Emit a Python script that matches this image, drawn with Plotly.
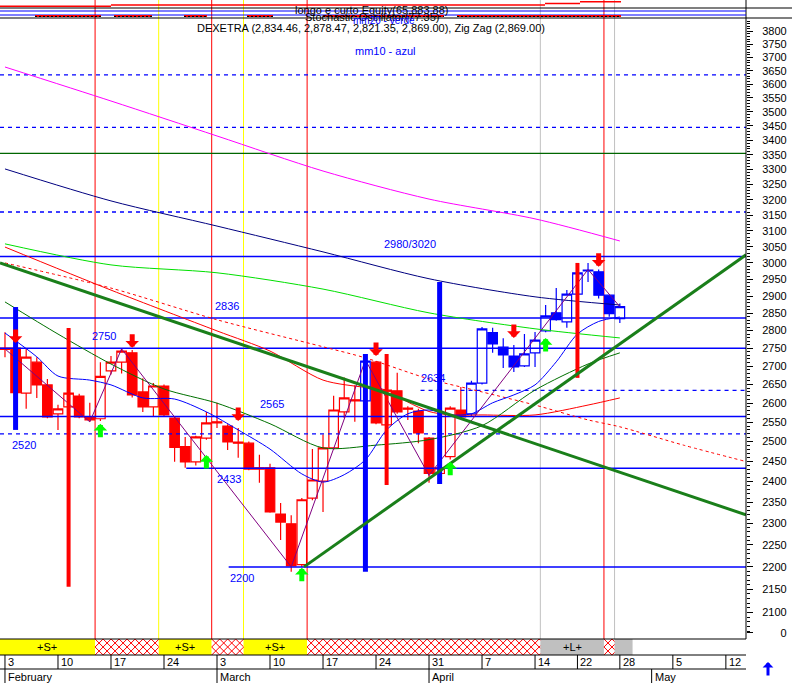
import math
import plotly.graph_objects as go

# ---------------- DATA ----------------
days = list(range(59))
opens = [2750, 2750, 2627, 2711, 2649, 2572, 2590, 2619, 2564, 2559,
         2687, 2711, 2737, 2630, 2590, 2646, 2561, 2487, 2449, 2509,
         2551, 2540, 2499, 2496, 2434, 2434, 2322, 2299, 2205, 2360,
         2401, 2484, 2577, 2609, 2606, 2711, 2543, 2633, 2587, 2579,
         2509, 2420, 2462, 2582, 2572, 2654, 2794, 2753, 2728, 2701,
         2737, 2799, 2851, 2825, 2906, 2978, 2973, 2903, 2834.46]
highs = [2795, 2755, 2750, 2725, 2665, 2596, 2640, 2625, 2601, 2711,
         2728, 2748, 2745, 2667, 2654, 2650, 2565, 2512, 2515, 2577,
         2601, 2545, 2535, 2500, 2467, 2444, 2348, 2319, 2360, 2481,
         2518, 2620, 2669, 2648, 2720, 2714, 2640, 2682, 2592, 2585,
         2512, 2445, 2592, 2643, 2660, 2810, 2808, 2778, 2759, 2790,
         2796, 2874, 2924, 2918, 2975, 3000, 2980, 2905, 2878.47]
lows = [2725, 2620, 2585, 2614, 2560, 2530, 2580, 2560, 2551, 2553,
        2677, 2680, 2615, 2577, 2564, 2565, 2449, 2434, 2440, 2505,
        2535, 2479, 2459, 2428, 2397, 2325, 2261, 2189, 2200, 2355,
        2327, 2480, 2561, 2551, 2600, 2545, 2540, 2572, 2556, 2496,
        2397, 2410, 2455, 2560, 2565, 2650, 2737, 2695, 2684, 2698,
        2698, 2795, 2828, 2808, 2900, 2942, 2893, 2840, 2821.35]
closes = [2747, 2628, 2725, 2649, 2564, 2585, 2627, 2564, 2556, 2672,
          2711, 2742, 2622, 2590, 2646, 2569, 2485, 2449, 2512, 2548,
          2548, 2499, 2496, 2431, 2431, 2327, 2303, 2202, 2356, 2404,
          2484, 2582, 2614, 2606, 2714, 2548, 2635, 2577, 2584, 2522,
          2420, 2434, 2587, 2564, 2654, 2805, 2762, 2731, 2698, 2734,
          2773, 2842, 2831, 2906, 2970, 2976, 2903, 2849, 2869.00]
candle_colors = (['r'] * 34 + ['b'] + ['r'] * 9 + ['b'] * 15)

# moving averages (sampled at trading-day index)
ma_long_days = [0, 10, 20, 30, 40, 50, 58]
ma_magenta = [3664, 3539, 3415, 3295, 3202, 3138, 3068]
ma_navy = [3302, 3196, 3115, 3034, 2952, 2898, 2874]
ma_lime = [3059, 2994, 2970, 2921, 2851, 2805, 2779]
ma_red_days = [0, 10, 20, 25, 30, 34, 36, 38, 40, 42, 45, 50, 55, 58]
ma_red = [3049, 2918, 2799, 2742, 2662, 2642, 2635, 2603, 2578, 2569, 2569, 2569, 2595, 2614]
ma_red_dash_days = [0, 10, 20, 30, 34, 40, 45, 50, 55, 58, 64, 70]
ma_red_dash = [3000, 2924, 2831, 2754, 2723, 2665, 2630, 2595, 2556, 2538, 2491, 2449]
ma_dkgreen_days = [0, 5, 10, 15, 20, 25, 30, 35, 40, 45, 50, 55, 58]
ma_dkgreen = [2883, 2790, 2706, 2638, 2600, 2546, 2484, 2491, 2505, 2541, 2635, 2706, 2737]
ma10_days = [0, 3, 5, 8, 10, 13, 16, 19, 22, 25, 28, 30, 32, 34, 36, 38, 40, 42,
             44, 46, 48, 50, 52, 54, 56, 58]
ma10_blue = [2793, 2726, 2673, 2662, 2649, 2614, 2611, 2577, 2530, 2481, 2419, 2399,
             2417, 2454, 2530, 2572, 2582, 2569, 2572, 2601, 2622, 2649, 2712, 2790,
             2826, 2839]

zigzag_days = [0, 8, 11, 27, 34, 40, 55, 58]
zigzag_prices = [2748, 2551, 2748, 2200, 2717, 2415, 2980, 2869]

trend_down_days = [-0.47, 69.9]
trend_down_prices = [3000, 2320]
trend_up_days = [28.2, 69.9]
trend_up_prices = [2200, 3025]

signal_bar_days = [1, 6, 34, 36, 41, 54]
signal_bar_tops = [2868, 2807, 2734, 2734, 2942, 3000]
signal_bar_bottoms = [2530, 2156, 2189, 2392, 2394, 2668]
signal_bar_colors = ['b', 'r', 'b', 'r', 'b', 'r']

sell_days = [1, 12, 22, 35, 48, 56]
sell_prices = [2765, 2751, 2553, 2728, 2779, 2988]
buy_days = [9, 19, 28, 42, 51]
buy_prices = [2546, 2466, 2198, 2449, 2779]

solid_levels = [3355, 3020, 2836, 2750, 2565, 2433, 2200]
solid_level_start = [-0.47, -0.47, -0.47, -0.47, -0.47, 17.1, 21.1]
solid_level_colors = ['g', 'b', 'b', 'b', 'b', 'b', 'b']
dashed_levels = [3635, 3445, 3160, 2634, 2520]
dashed_level_start = [-0.47, -0.47, -0.47, 39.2, -0.47]

level_labels = ['2980/3020', '2836', '2750', '2634', '2565', '2520', '2433', '2200']
level_label_prices = [3020, 2836, 2750, 2634, 2565, 2520, 2433, 2200]
level_label_days = [38.2, 20.9, 9.3, 40.4, 25.2, 1.8, 21.1, 22.4]
level_label_side = ['above', 'above', 'above', 'above', 'above', 'below', 'below', 'below']

band_edges = [-0.5, 8.5, 14.5, 19.5, 22.5, 28.5, 50.5, 56.5, 57.5, 59.2]
band_kinds = ['S', 'x', 'S', 'x', 'S', 'x', 'L', 'x', 'L']
band_texts = ['+S+', '', '+S+', '', '+S+', '', '+L+', '', '']

week_tick_days = [0, 5, 10, 15, 20, 25, 30, 35, 40, 45, 50, 54, 58, 63, 68]
week_tick_labels = ['3', '10', '17', '24', '3', '10', '17', '24', '31', '7', '14', '22', '28', '5', '12']
month_start_days = [0, 20, 40, 61]
month_labels = ['February', 'March', 'April', 'May']

price_tick_vals = list(range(2100, 3801, 50)) + [2057]
price_tick_text = [str(v) for v in range(2100, 3801, 50)] + ['\u2007\u2007\u20070']

title_text = 'DEXETRA (2,834.46, 2,878.47, 2,821.35, 2,869.00), Zig Zag (2,869.00)'

# ---------------- STYLE / GEOMETRY ----------------
W, H = 792, 683
PLOT_R = 746
MAIN_TOP, MAIN_BOT = 20, 638
BAND_TOP, BAND_BOT = 639, 655
ROW2 = 669
X_RANGE = [-0.47, 69.9]
PX_PER_DAY = PLOT_R / (X_RANGE[1] - X_RANGE[0])
Y_RANGE = [math.log10(2046), math.log10(3844)]
RED = '#ff0000'
BLUE = '#0000ff'
FONT = 'Liberation Sans, Arial, sans-serif'


def py(p):
    return 1 - p / H


def pxp(p):
    return p / W


fig = go.Figure()


def line(xs, ys, color, width=1, dash=None, shape='linear'):
    fig.add_trace(go.Scatter(x=xs, y=ys, mode='lines',
                             line=dict(color=color, width=width, dash=dash, shape=shape,
                                       smoothing=0.8 if shape == 'spline' else None),
                             hoverinfo='skip', showlegend=False, xaxis='x', yaxis='y'))


# level lines
for v, s, c in zip(solid_levels, solid_level_start, solid_level_colors):
    line([s, X_RANGE[1]], [v, v], '#006600' if c == 'g' else BLUE, 1.5 if c == 'b' else 1.2)
for v, s in zip(dashed_levels, dashed_level_start):
    line([s, X_RANGE[1]], [v, v], BLUE, 1.3, dash='4px,4px')

# moving averages
line(ma_long_days, ma_magenta, '#ff00ff', 1, shape='spline')
line(ma_long_days, ma_navy, '#000080', 1, shape='spline')
line(ma_long_days, ma_lime, '#00e000', 1, shape='spline')
line(ma_red_days, ma_red, RED, 1, shape='spline')
line(ma_red_dash_days, ma_red_dash, RED, 1, dash='3px,3px', shape='spline')
line(ma_dkgreen_days, ma_dkgreen, '#007000', 1, shape='spline')
line(ma10_days, ma10_blue, BLUE, 1, shape='spline')

# candles
for col, color in (('r', RED), ('b', BLUE)):
    idx = [i for i, c in enumerate(candle_colors) if c == col]
    fig.add_trace(go.Candlestick(
        x=[days[i] for i in idx], open=[opens[i] for i in idx], high=[highs[i] for i in idx],
        low=[lows[i] for i in idx], close=[closes[i] for i in idx],
        increasing=dict(line=dict(color=color, width=1.2), fillcolor='#ffffff'),
        decreasing=dict(line=dict(color=color, width=1.2), fillcolor=color),
        whiskerwidth=0, showlegend=False, hoverinfo='skip', xaxis='x', yaxis='y'))

# zigzag
line(zigzag_days, zigzag_prices, '#800080', 1)

# signal bars
for d, t, b, c in zip(signal_bar_days, signal_bar_tops, signal_bar_bottoms, signal_bar_colors):
    line([d, d], [t, b], BLUE if c == 'b' else RED, 5 if c == 'b' else 4)

# trendlines
line(trend_down_days, trend_down_prices, '#1a7f1a', 3)
line(trend_up_days, trend_up_prices, '#1a7f1a', 3)

# band (bottom strip)
centers = [(band_edges[i] + band_edges[i + 1]) / 2 for i in range(len(band_kinds))]
widths = [band_edges[i + 1] - band_edges[i] for i in range(len(band_kinds))]
kind_color = {'S': '#ffff00', 'L': '#c0c0c0', 'x': '#ffffff'}
fig.add_trace(go.Bar(
    x=centers, y=[1] * len(centers), width=widths, base=0,
    marker=dict(color=[kind_color[k] for k in band_kinds], line=dict(width=0)),
    xaxis='x2', yaxis='y2', showlegend=False, hoverinfo='skip'))

# cross-hatching of the "x" segments (decoration, 45 degree lines)
band_h_days = (BAND_BOT - BAND_TOP) / PX_PER_DAY
step = 8 / PX_PER_DAY
hx, hy = [], []
for i, k in enumerate(band_kinds):
    if k != 'x':
        continue
    a, b = band_edges[i], band_edges[i + 1]
    x0 = a - band_h_days
    while x0 < b:
        for direction in (1, -1):
            t_lo = max(0.0, (a - x0) / band_h_days)
            t_hi = min(1.0, (b - x0) / band_h_days)
            if t_lo < t_hi:
                xs = [x0 + band_h_days * t_lo, x0 + band_h_days * t_hi]
                ys = [t_lo, t_hi] if direction == 1 else [1 - t_lo, 1 - t_hi]
                hx += xs + [None]
                hy += ys + [None]
        x0 += step
fig.add_trace(go.Scatter(x=hx, y=hy, mode='lines', line=dict(color=RED, width=1),
                         xaxis='x2', yaxis='y2', showlegend=False, hoverinfo='skip'))

shapes = []
annotations = []


def ptext(xp, ypix, text, size=11, color='black', xanchor='center'):
    annotations.append(dict(x=pxp(xp), y=py(ypix), xref='paper', yref='paper', text=text,
                            showarrow=False, xanchor=xanchor, yanchor='middle',
                            font=dict(size=size, color=color)))


# vertical event lines
vcol = {'S': '#ffff00', 'L': '#c0c0c0', 'x': RED}
for i in range(1, len(band_kinds)):
    shapes.append(dict(type='line', xref='x', yref='paper', x0=band_edges[i], x1=band_edges[i],
                       y0=py(BAND_TOP), y1=1, line=dict(color=vcol[band_kinds[i]], width=1), layer='below'))

# row separators
for yy in (BAND_TOP, BAND_BOT, ROW2):
    shapes.append(dict(type='line', xref='paper', yref='paper', x0=0, x1=pxp(PLOT_R),
                       y0=py(yy), y1=py(yy), line=dict(color='black', width=1)))
# axis line
shapes.append(dict(type='line', xref='paper', yref='paper', x0=pxp(PLOT_R), x1=pxp(PLOT_R),
                   y0=py(BAND_TOP), y1=1, line=dict(color='black', width=1)))

# date ticks
for d, lab in zip(week_tick_days, week_tick_labels):
    shapes.append(dict(type='line', xref='x', yref='paper', x0=d, x1=d, y0=py(ROW2), y1=py(BAND_BOT),
                       line=dict(color='black', width=1)))
    annotations.append(dict(x=d, y=py(662), xref='x', yref='paper', text=lab, showarrow=False,
                            xanchor='left', yanchor='middle', xshift=1, font=dict(size=11, color='black')))
for d, lab in zip(month_start_days, month_labels):
    shapes.append(dict(type='line', xref='x', yref='paper', x0=d, x1=d, y0=0, y1=py(ROW2),
                       line=dict(color='black', width=1)))
    annotations.append(dict(x=d, y=py(676.5), xref='x', yref='paper', text=lab, showarrow=False,
                            xanchor='left', yanchor='middle', xshift=1, font=dict(size=11, color='black')))

# band texts
for c, t in zip(centers, band_texts):
    if t:
        annotations.append(dict(x=c, y=0.5, xref='x2', yref='y2', text=t, showarrow=False,
                                xanchor='center', yanchor='middle', font=dict(size=11, color='black')))

# top squashed indicator panels
for yy, col, x1 in ((8, 'black', W), (18, 'black', W), (11, BLUE, PLOT_R), (15, BLUE, PLOT_R)):
    shapes.append(dict(type='line', xref='paper', yref='paper', x0=0, x1=pxp(x1), y0=py(yy), y1=py(yy),
                       line=dict(color=col, width=1.2)))
for x0, x1, yy in ((0, 111, 6.3), (111, 545, 5), (545, 580, 3.5), (580, 621, 1.7)):
    shapes.append(dict(type='line', xref='paper', yref='paper', x0=pxp(x0), x1=pxp(x1), y0=py(yy), y1=py(yy),
                       line=dict(color=RED, width=1.5)))
for x0, x1 in ((35, 101), (114, 152), (184, 207), (247, 273), (323, 444), (457, 621)):
    shapes.append(dict(type='line', xref='paper', yref='paper', x0=pxp(x0), x1=pxp(x1), y0=py(16), y1=py(16),
                       line=dict(color=RED, width=2)))
    shapes.append(dict(type='line', xref='paper', yref='paper', x0=pxp(x0), x1=pxp(x1), y0=py(16.5), y1=py(16.5),
                       line=dict(color='black', width=1, dash='2px,2px')))
ptext(372, 10, 'longo e curto Equity(65,883.88)')
ptext(372, 17, 'Stochastic Oscillator(77.35)')
ptext(384, 20, 'mm20 - verde', size=10, color=BLUE)

# title and note
ptext(371, 28.5, title_text)
ptext(385, 51, 'mm10 - azul', color=BLUE)

# level labels
for t, p, d, side in zip(level_labels, level_label_prices, level_label_days, level_label_side):
    annotations.append(dict(x=d, y=math.log10(p), xref='x', yref='y', text=t, showarrow=False,
                            xanchor='center', yanchor='middle',
                            yshift=12 if side == 'above' else -11, font=dict(size=11, color=BLUE)))

# signal arrows
for d, p in zip(sell_days, sell_prices):
    annotations.append(dict(x=d, y=math.log10(p), xref='x', yref='y', text='', showarrow=True,
                            arrowhead=1, arrowsize=0.45, arrowwidth=5, arrowcolor=RED, ax=0, ay=-15, standoff=0))
for d, p in zip(buy_days, buy_prices):
    annotations.append(dict(x=d, y=math.log10(p), xref='x', yref='y', text='', showarrow=True,
                            arrowhead=1, arrowsize=0.45, arrowwidth=5, arrowcolor='#00ff00', ax=0, ay=15, standoff=0))

# blue arrow bottom right
annotations.append(dict(x=pxp(768), y=py(662), xref='paper', yref='paper', text='', showarrow=True,
                        arrowhead=1, arrowsize=0.6, arrowwidth=3, arrowcolor=BLUE, ax=0, ay=15, standoff=0))

minor_vals = [v for v in range(2050, 3851, 10) if v % 50 != 0]

fig.update_layout(
    width=W, height=H, margin=dict(l=0, r=0, t=0, b=0),
    paper_bgcolor='white', plot_bgcolor='white',
    font=dict(family=FONT, size=11, color='black'),
    showlegend=False, boxgap=0.1, boxgroupgap=0,
    xaxis=dict(domain=[0, pxp(PLOT_R)], range=X_RANGE, visible=False, rangeslider=dict(visible=False),
               anchor='y', fixedrange=True),
    yaxis=dict(domain=[py(MAIN_BOT), py(MAIN_TOP)], type='log', range=Y_RANGE, side='right', anchor='x',
               showgrid=False, zeroline=False, showline=False, tickmode='array',
               tickvals=price_tick_vals, ticktext=price_tick_text, ticks='outside', ticklen=6,
               tickcolor='black', ticklabelstandoff=7, automargin=False,
               tickfont=dict(size=11, color='black', family=FONT),
               minor=dict(tickvals=minor_vals, ticks='outside', ticklen=3, tickcolor='black')),
    xaxis2=dict(domain=[0, pxp(PLOT_R)], matches='x', anchor='y2', visible=False,
                rangeslider=dict(visible=False)),
    yaxis2=dict(domain=[py(BAND_BOT), py(BAND_TOP)], range=[0, 1], visible=False, anchor='x2'),
    shapes=shapes, annotations=annotations,
)

fig.write_html('out.html', config={'displayModeBar': False},
               post_script="document.body.style.margin='0';document.body.style.overflow='hidden';")
